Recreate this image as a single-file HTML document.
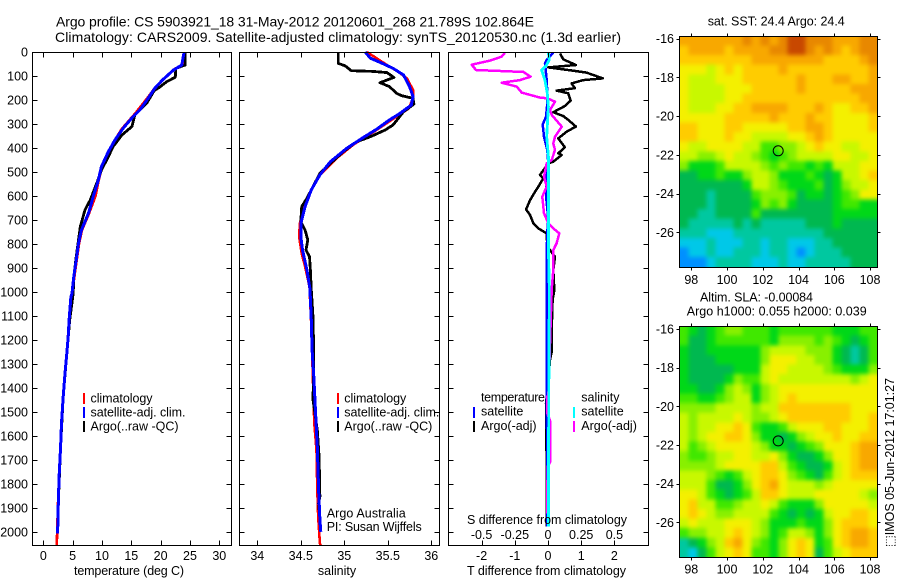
<!DOCTYPE html>
<html><head><meta charset="utf-8"><title>Argo profile</title>
<style>
html,body{margin:0;padding:0;background:#fff}
svg{display:block}
text{font-family:"Liberation Sans","DejaVu Sans",sans-serif;font-size:12.5px;fill:#000}
.t{font-size:14px}
.s{shape-rendering:crispEdges}
</style></head><body>
<svg id="chart" width="900" height="580" viewBox="0 0 900 580" xmlns="http://www.w3.org/2000/svg">
<defs>
<filter id="soft" x="-10%" y="-10%" width="120%" height="120%" color-interpolation-filters="sRGB"><feGaussianBlur stdDeviation="2.2"/></filter>
<clipPath id="clip-map1"><rect x="679" y="36" width="198" height="231"/></clipPath>
<clipPath id="clip-map2"><rect x="679" y="326" width="198" height="231"/></clipPath>
</defs>
<rect width="900" height="580" fill="#fff"/>
<text class="t" x="56" y="26.5" textLength="478">Argo profile: CS 5903921_18 31-May-2012 20120601_268 21.789S 102.864E</text>
<text class="t" x="55" y="42" textLength="566">Climatology: CARS2009. Satellite-adjusted climatology: synTS_20120530.nc (1.3d earlier)</text>

<g id="temp-panel"></g>
<g id="sal-panel"></g>
<g id="diff-panel"></g>
<g id="map1"></g>
<g id="map2"></g>

<text x="129" y="575" text-anchor="middle" textLength="110">temperature (deg C)</text>
<text x="337" y="575" text-anchor="middle">salinity</text>
<text x="467" y="575" textLength="159">T difference from climatology</text>
<text x="467" y="524" textLength="160">S difference from climatology</text>

<g>
<rect class="s" x="83" y="393" width="2" height="11" fill="#f00"/>
<rect class="s" x="83" y="407" width="2" height="11" fill="#00f"/>
<rect class="s" x="83" y="421" width="2" height="11" fill="#000"/>
<text x="90.5" y="402.7" textLength="62">climatology</text>
<text x="90.5" y="416.7" textLength="95">satellite-adj. clim.</text>
<text x="90.5" y="430.7" textLength="88">Argo(..raw -QC)</text>
</g>
<g>
<rect class="s" x="337" y="393" width="2" height="11" fill="#f00"/>
<rect class="s" x="337" y="407" width="2" height="11" fill="#00f"/>
<rect class="s" x="337" y="421" width="2" height="11" fill="#000"/>
<text x="344.3" y="402.7" textLength="62">climatology</text>
<text x="344.3" y="416.7" textLength="95">satellite-adj. clim.</text>
<text x="344.3" y="430.7" textLength="88">Argo(..raw -QC)</text>
<text x="326.7" y="517.3" textLength="79">Argo Australia</text>
<text x="326.7" y="531" textLength="95">PI: Susan Wijffels</text>
</g>
<g>
<text x="481" y="401.7" textLength="64">temperature</text>
<rect class="s" x="473" y="407" width="2" height="11" fill="#00f"/>
<text x="481" y="415.7">satellite</text>
<rect class="s" x="473" y="421" width="2" height="11" fill="#000"/>
<text x="481" y="430">Argo(-adj)</text>
<text x="581.3" y="401.7">salinity</text>
<rect class="s" x="573" y="407" width="2" height="11" fill="#0ff"/>
<text x="581.3" y="415.7">satellite</text>
<rect class="s" x="573" y="421" width="2" height="11" fill="#f0f"/>
<text x="581.3" y="430">Argo(-adj)</text>
</g>

<text x="707.7" y="25.5" textLength="137">sat. SST: 24.4 Argo: 24.4</text>
<text x="700" y="301.7" textLength="113">Altim. SLA: -0.00084</text>
<text x="686.7" y="315.7" textLength="180">Argo h1000: 0.055 h2000: 0.039</text>
<text transform="translate(894,547) rotate(-90)" textLength="169">⬚IMOS 05-Jun-2012 17:01:27</text>
</svg>
<script>
// ---- tick values ----
const depthTicks = [0,100,200,300,400,500,600,700,800,900,1000,1100,1200,1300,1400,1500,1600,1700,1800,1900,2000];
const tempTicks = [0,5,10,15,20,25,30];
const salTicks = [34,34.5,35,35.5,36];
const tDiffTicks = [-2,-1,0,1,2];
const sDiffTicks = [-0.5,-0.25,0,0.25,0.5];
const lonTicks = [98,100,102,104,106,108];
const latTicks = [-16,-18,-20,-22,-24,-26];

// ---- temperature profiles ----
const tempClimDepth = [0,54,70,110,150,190,255,320,370,420,480,540,600,672,742,797,867,936,1006,1117,1256,1436,1644,1881,2006,2055];
const tempClim = [24.2,23.8,22.4,20.6,19.0,17.8,15.7,13.4,12.1,11.0,10.0,9.4,8.9,7.8,6.6,6.1,5.7,5.3,4.9,4.4,4.0,3.4,2.95,2.5,2.35,2.3];
const tempArgoDepth = [0,54,68,105,124,147,161,214,262,311,346,394,436,492,547,617,658,728,783,853,936,1006,1117,1256,1436,1644,1881,2000];
const tempArgo = [24.2,24.2,22.6,22.5,21.0,19.8,18.9,17.6,15.6,15.1,13.4,11.9,11.1,9.9,9.1,8.0,7.1,6.3,6.0,5.6,5.2,5.1,4.5,4.0,3.4,2.95,2.55,2.45];
const tempSatDepth = [0,54,75,117,151,192,240,269,318,367,415,478,533,603,672,742,797,867,936,1006,1020,1117,1180,1256,1339,1436,1547,1644,1769,1881,2006];
const tempSat = [24.0,23.6,22.2,20.3,19.0,17.9,16.5,15.3,13.6,12.2,11.1,9.9,9.4,8.5,7.7,6.5,6.0,5.6,5.2,4.9,4.7,4.4,4.26,4.0,3.7,3.4,3.1,2.95,2.7,2.56,2.44];

// ---- salinity profiles ----
const salClimDepth = [0,54,82,110,158,193,235,269,325,387,443,512,575,644,714,769,839,894,978,1131,1547,1659,1825,1936,2048,2055];
const salClim = [35.26,35.49,35.62,35.72,35.79,35.79,35.74,35.60,35.37,35.10,34.91,34.72,34.62,34.54,34.49,34.48,34.51,34.55,34.60,34.62,34.655,34.68,34.69,34.70,34.72,34.73];
const salArgoDepth = [0,47,58,78,81,86,106,128,144,172,182,193,217,249,304,325,353,374,415,464,506,561,610,644,707,742,783,825,853,908,985,1103,1270,1450,1575,1686,1853,1881,1992];
const salArgo = [34.93,34.93,35.01,35.08,35.33,35.49,35.57,35.41,35.52,35.60,35.66,35.79,35.80,35.68,35.56,35.47,35.30,35.14,34.99,34.84,34.72,34.64,34.57,34.51,34.50,34.55,34.58,34.56,34.60,34.61,34.62,34.64,34.65,34.64,34.69,34.71,34.72,34.705,34.73];
const salSatDepth = [0,26,43,68,96,144,186,221,256,283,322,356,401,457,512,575,644,714,769,825,908,985,1103,1242,1353,1506,1645,1825,1950,1999];
const salSat = [35.24,35.30,35.41,35.56,35.68,35.75,35.79,35.77,35.64,35.52,35.37,35.22,35.03,34.84,34.72,34.62,34.55,34.50,34.50,34.52,34.57,34.605,34.62,34.63,34.65,34.67,34.69,34.705,34.72,34.73];

// ---- difference profiles ----
const dTArgoDepth = [6,31,54,64,78,86,110,117,131,151,161,172,203,225,251,267,283,311,332,360,397,422,429,457,464,512,526,561,582,617,656,679,714,735,756,811,853,908,992,1033,1158,1249,1283,1370,1464,1603,1686,1978];
const dTArgo = [0.36,0.46,0.84,0.01,0.76,1.16,1.65,1.06,0.71,0.81,0.26,0.61,0.68,0.51,0.16,0.46,0.61,0.84,0.56,0.31,0.51,0.31,0.41,0.16,0.01,-0.24,-0.14,-0.29,-0.39,-0.54,-0.66,-0.54,-0.44,-0.29,-0.04,-0.02,0.21,0.16,0.19,0.14,0.11,0.11,0.06,0.01,-0.06,-0.06,-0.04,-0.04];
const dTSatDepth = [3,33,47,117,172,214,269,303,353,408,464,519,600,683,825,1367,1769,1978];
const dTSat = [0.16,-0.04,-0.09,-0.04,-0.02,-0.02,-0.06,-0.16,-0.12,-0.02,0.01,-0.04,-0.06,0,-0.04,-0.04,-0.02,-0.02];
const dSArgoDepth = [3,19,36,53,75,81,83,103,117,128,144,169,190,193,207,242,262,311,353,381,408,450,464,519,561,603,672,714,735,756,797,825,908,989,1429,1436,1506,1540,1707,1728,1922];
const dSArgo = [-0.324,-0.349,-0.437,-0.575,-0.542,-0.286,-0.186,-0.131,-0.211,-0.349,-0.236,-0.198,-0.06,-0.005,0.053,0.015,0.028,0.103,0.053,0.04,0.053,0.028,-0.01,-0.03,-0.01,-0.043,-0.03,0.003,0.04,0.085,0.065,0.04,0.04,0.028,0.003,-0.005,-0.005,0.018,0.018,-0.003,-0.005];
const dSSatDepth = [3,33,58,75,117,172,228,353,436,811,992,1500,1978];
const dSSat = [0.003,0.01,-0.015,-0.048,-0.023,-0.005,0.003,-0.01,0.003,0.003,0.01,0.005,0.003];

// ---- map colours and gridded fields (colour-level values) ----
const mapPalette = ['#0090ff','#00c8e8','#00c8a0','#00b850','#00d818','#40e800','#88f000','#c8f800','#f4f000','#ffcc00','#f8a800','#e88800','#c84800'];
const sstField = [
[10,10,10,10,10,10,10,11,10,11,10,11,12,12,11,11,11,10,10,10,11,11],
[9,10,10,10,10,9,10,10,10,10,11,11,12,12,11,10,11,10,9,10,11,11],
[9,9,9,9,9,9,9,9,10,10,10,10,10,10,10,10,9,9,9,9,10,11],
[8,8,8,7,8,9,8,9,9,9,9,10,9,9,9,9,9,9,9,9,9,10],
[8,7,7,7,8,8,8,9,9,9,9,9,9,10,9,9,9,10,10,9,9,10],
[8,7,7,7,7,8,8,8,9,9,9,9,9,10,9,9,9,9,9,10,10,10],
[8,7,7,7,7,8,8,9,9,9,9,9,9,9,9,9,9,9,9,9,10,10],
[8,7,7,7,8,8,9,9,10,10,10,10,9,9,9,10,9,8,8,9,9,10],
[8,8,8,8,8,9,9,9,9,9,10,9,9,9,10,9,9,8,8,8,8,9],
[9,9,8,8,8,9,9,8,8,8,8,8,9,9,10,10,9,8,8,8,8,9],
[9,9,8,8,8,9,8,8,7,7,7,7,8,8,9,10,9,8,8,8,8,8],
[8,7,7,8,8,8,8,7,7,5,5,6,6,7,8,9,8,8,7,7,8,8],
[7,7,6,6,7,8,7,7,6,5,4,5,6,7,7,7,7,8,8,7,7,8],
[6,4,4,4,5,7,7,7,7,6,5,6,5,5,4,5,4,7,7,7,8,8],
[3,3,4,4,5,4,4,6,7,7,6,4,4,4,5,4,3,4,7,7,8,9],
[3,3,3,3,3,3,3,4,7,7,6,5,4,4,4,5,3,4,6,7,7,8],
[3,3,3,2,3,3,3,3,5,6,6,6,5,3,4,4,3,4,5,6,8,8],
[3,3,3,2,3,3,3,3,4,6,5,6,4,3,3,3,3,4,5,5,4,4],
[3,3,2,2,3,3,3,3,5,3,3,3,3,3,3,3,3,4,4,4,4,4],
[3,2,2,2,2,2,3,2,3,2,2,2,2,2,3,3,3,4,3,3,3,3],
[2,2,2,1,1,1,2,2,2,2,2,2,2,2,2,2,3,3,3,3,3,3],
[1,1,1,2,1,1,1,2,2,1,2,2,1,1,1,2,2,3,3,3,3,3],
[0,1,1,2,1,1,2,2,2,1,2,2,1,0,1,2,2,2,3,3,3,3],
[0,0,0,1,2,2,2,2,1,1,1,2,1,1,2,2,2,2,2,3,3,3]
];
const slaField = [
[5,4,3,4,5,6,6,5,5,5,4,5,5,5,5,5,5,4,4,4,5,5],
[5,3,3,4,5,5,5,5,5,5,4,6,6,6,6,5,6,5,4,3,4,5],
[4,3,3,4,4,4,4,4,4,6,7,7,7,7,6,6,6,4,3,2,3,5],
[4,3,3,3,4,4,4,4,4,6,8,8,8,7,7,6,6,4,3,2,3,5],
[4,3,3,3,3,3,4,4,4,7,8,8,7,7,7,7,6,5,4,4,4,6],
[4,3,3,3,3,4,6,5,5,7,8,7,7,7,7,7,7,7,7,6,7,8],
[4,4,3,3,4,6,7,6,4,6,7,8,8,8,8,8,8,8,8,8,8,8],
[5,5,4,4,5,6,7,7,4,6,7,8,9,8,8,8,8,8,8,8,8,8],
[6,6,6,6,7,7,7,7,6,7,7,9,9,9,9,9,9,9,9,8,8,8],
[7,6,7,7,7,7,8,7,6,6,7,8,9,9,9,9,9,9,9,8,8,9],
[7,6,7,7,8,8,9,8,5,4,4,5,7,8,8,8,9,9,8,8,8,9],
[7,6,7,8,8,9,9,8,6,4,4,3,4,6,7,8,8,9,8,8,9,9],
[7,5,6,7,8,8,8,8,7,6,4,4,3,4,5,6,8,8,8,9,10,10],
[6,5,5,6,7,7,8,8,7,7,8,6,4,3,3,4,6,8,8,9,10,10],
[6,6,6,6,7,8,8,8,8,9,9,7,5,4,3,3,4,7,8,9,10,10],
[7,7,7,6,5,4,5,7,8,9,9,8,6,5,4,3,5,7,8,9,9,9],
[7,7,7,5,3,3,4,6,8,9,10,8,7,7,7,6,7,8,8,8,8,8],
[8,8,7,5,4,3,4,5,7,9,9,8,7,7,7,8,8,8,8,8,7,6],
[8,9,7,7,5,5,6,7,7,8,7,5,4,4,4,6,8,8,8,8,8,7],
[8,9,8,7,6,6,7,7,7,7,5,4,3,4,3,4,7,8,8,9,9,8],
[7,8,7,7,7,8,8,8,7,6,4,4,4,5,4,4,6,8,9,9,9,8],
[5,6,6,7,7,8,9,8,7,6,4,5,7,7,6,4,6,8,9,10,10,9],
[2,3,4,6,7,9,10,8,6,5,4,6,8,9,8,4,5,8,9,10,10,9],
[2,1,3,5,7,8,9,8,5,5,4,6,8,9,8,3,5,7,8,9,9,9]
];
const floatLon = 102.864;
const floatLat = -21.789;

// ---- axis functions ----
const NS = 'http://www.w3.org/2000/svg';
const PANEL_TOP = 52, PANEL_BOTTOM = 545;
const yDepth = d => 52 + d * 0.24;
const xTemp = v => 43.3 + v * 5.867;
const xSal = v => 257.3 + (v - 34) * 87;
const xDT = v => 548 + v * 33.2;
const xDS = v => 548 + v * 132.8;
const xLon = v => 691.3 + (v - 98) * 17.87;
const yLat1 = v => 38.7 + (-16 - v) * 19.36;
const yLat2 = v => 329 + (-16 - v) * 19.33;

function make(tag, parent, attrs) {
  const el = document.createElementNS(NS, tag);
  for (const k in attrs) el.setAttribute(k, attrs[k]);
  parent.appendChild(el);
  return el;
}
function tickLine(parent, x1, y1, x2, y2) {
  const el = make('line', parent, {x1: Math.round(x1) + 0.5, y1: Math.round(y1) + 0.5, x2: Math.round(x2) + 0.5, y2: Math.round(y2) + 0.5, stroke: '#000', 'stroke-width': 1, class: 's'});
  
  
  return el;
}
function label(parent, x, y, str, anchor) {
  const el = make('text', parent, {x: x, y: y, 'text-anchor': anchor});
  el.textContent = str;
  
  
  return el;
}
function profile(parent, name, depths, values, xFn, color, width) {
  const pts = depths.map((d, i) => xFn(values[i]).toFixed(1) + ',' + yDepth(d).toFixed(1)).join(' ');
  const el = make('polyline', parent, {points: pts, fill: 'none', stroke: color, 'stroke-width': width, 'stroke-linejoin': 'round', class: 's'});
  
  
  return el;
}
function frame(parent, x, y, w, h) {
  const el = make('rect', parent, {x: x + 0.5, y: y + 0.5, width: w, height: h, fill: 'none', stroke: '#000', 'stroke-width': 1, class: 's'});
  
  
  return el;
}
function panelTicks(parent, left, right, xVals, xFn) {
  depthTicks.forEach(d => {
    tickLine(parent, left, yDepth(d), left + 5, yDepth(d));
    tickLine(parent, right, yDepth(d), right - 5, yDepth(d));
  });
  xVals.forEach(v => {
    tickLine(parent, xFn(v), PANEL_TOP, xFn(v), PANEL_TOP + 5);
    tickLine(parent, xFn(v), PANEL_BOTTOM, xFn(v), PANEL_BOTTOM - 5);
  });
}

// ---- temperature panel ----
const gT = document.getElementById('temp-panel');
profile(gT, 'temperature-climatology-line', tempClimDepth, tempClim, xTemp, '#f00', 2.6);
profile(gT, 'temperature-argo-line', tempArgoDepth, tempArgo, xTemp, '#000', 2.8);
profile(gT, 'temperature-satellite-line', tempSatDepth, tempSat, xTemp, '#00f', 3);
frame(gT, 32, PANEL_TOP, 199, PANEL_BOTTOM - PANEL_TOP);
panelTicks(gT, 32, 231, tempTicks, xTemp);
depthTicks.forEach(d => label(gT, 28, yDepth(d) + 4.5, String(d), 'end'));
tempTicks.forEach(v => label(gT, xTemp(v), 560, String(v), 'middle'));

// ---- salinity panel ----
const gS = document.getElementById('sal-panel');
profile(gS, 'salinity-climatology-line', salClimDepth, salClim, xSal, '#f00', 2.6);
profile(gS, 'salinity-argo-line', salArgoDepth, salArgo, xSal, '#000', 2.8);
profile(gS, 'salinity-satellite-line', salSatDepth, salSat, xSal, '#00f', 3);
frame(gS, 239, PANEL_TOP, 200, PANEL_BOTTOM - PANEL_TOP);
panelTicks(gS, 239, 439, salTicks, xSal);
salTicks.forEach(v => label(gS, xSal(v), 560, String(v), 'middle'));

// ---- difference panel ----
const gD = document.getElementById('diff-panel');
profile(gD, 't-diff-argo-line', dTArgoDepth, dTArgo, xDT, '#000', 2.5);
profile(gD, 't-diff-satellite-line', dTSatDepth, dTSat, xDT, '#00f', 2.5);
profile(gD, 's-diff-argo-line', dSArgoDepth, dSArgo, xDS, '#f0f', 2.5);
profile(gD, 's-diff-satellite-line', dSSatDepth, dSSat, xDS, '#0ff', 2.8);
frame(gD, 448, PANEL_TOP, 200, PANEL_BOTTOM - PANEL_TOP);
panelTicks(gD, 448, 648, tDiffTicks, xDT);
tDiffTicks.forEach(v => label(gD, xDT(v), 560, String(v), 'middle'));
sDiffTicks.forEach(v => label(gD, xDS(v), 539, String(v), 'middle'));

// ---- maps ----
function drawMap(id, field, yFn, top, bottom, xLabelY) {
  const g = document.getElementById(id);
  const left = 679, right = 877;
  const lonStart = 97.33, lonStep = 11.08 / field[0].length;
  const latStart = -15.85, latStep = ((bottom - top) / (yFn(-17) - yFn(-16))) / field.length;
  const clip = make('g', g, {'clip-path': 'url(#clip-' + id + ')'});
  
  
  const image = make('g', clip, {filter: 'url(#soft)'});
  
  
  const PAD = 10;
  field.forEach((row, r) => {
    row.forEach((v, c) => {
      let x0 = xLon(lonStart + c * lonStep), x1 = xLon(lonStart + (c + 1) * lonStep);
      let y0 = yFn(latStart - r * latStep), y1 = yFn(latStart - (r + 1) * latStep);
      if (c === 0) x0 -= PAD;
      if (c === row.length - 1) x1 += PAD;
      if (r === 0) y0 -= PAD;
      if (r === field.length - 1) y1 += PAD;
      const cell = make('rect', image, {x: x0.toFixed(2), y: y0.toFixed(2), width: (x1 - x0 + 0.4).toFixed(2), height: (y1 - y0 + 0.4).toFixed(2), fill: mapPalette[v], class: 's'});
      
      
    });
  });
  frame(g, left, top, right - left, bottom - top);
  lonTicks.forEach(v => {
    tickLine(g, xLon(v), top, xLon(v), top - 3);
    tickLine(g, xLon(v), bottom, xLon(v), bottom + 3);
    label(g, xLon(v), xLabelY, String(v), 'middle');
  });
  latTicks.forEach(v => {
    tickLine(g, left, yFn(v), left - 3, yFn(v));
    tickLine(g, right, yFn(v), right + 3, yFn(v));
    label(g, 674, yFn(v) + 4.5, String(v), 'end');
  });
  const dot = make('circle', g, {cx: xLon(floatLon).toFixed(1), cy: yFn(floatLat).toFixed(1), r: 5, fill: 'none', stroke: '#000', 'stroke-width': 1});
  
  
}
drawMap('map1', sstField, yLat1, 36, 267, 284);
drawMap('map2', slaField, yLat2, 326, 557, 573.5);
</script>
</body></html>
